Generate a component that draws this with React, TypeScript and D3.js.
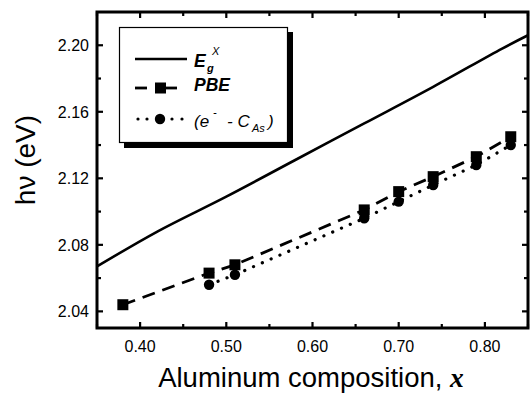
import { useEffect, useRef } from "react"
import * as d3 from "d3"

// E_g^X curve
const egX = [0.35, 0.42, 0.5, 0.58, 0.66, 0.74, 0.82, 0.85]
const egY = [2.067, 2.088, 2.109, 2.131, 2.153, 2.175, 2.198, 2.206]

// PBE (squares)
const pbeX = [0.38, 0.48, 0.51, 0.66, 0.7, 0.74, 0.79, 0.83]
const pbeY = [2.044, 2.063, 2.068, 2.101, 2.112, 2.121, 2.133, 2.145]

// (e- - C_As) (circles)
const casX = [0.48, 0.51, 0.66, 0.7, 0.74, 0.79, 0.83]
const casY = [2.056, 2.062, 2.096, 2.106, 2.116, 2.128, 2.14]

const xTicks = [0.4, 0.5, 0.6, 0.7, 0.8]
const xMinor = [0.35, 0.45, 0.55, 0.65, 0.75, 0.85]
const yTicks = [2.04, 2.08, 2.12, 2.16, 2.2]
const yMinor = [2.06, 2.1, 2.14, 2.18]

const W = 532
const H = 394
const FONT = "'Liberation Sans', Arial, Helvetica, sans-serif"

const App = () => {
  const svgRef = useRef<SVGSVGElement>(null)

  useEffect(() => {
    const svg = d3.select(svgRef.current)
    svg.selectAll("*").remove()

    const left = 97
    const right = 528
    const top = 12
    const bottom = 328

    const x = d3.scaleLinear().domain([0.35, 0.85]).range([left, right])
    const y = d3.scaleLinear().domain([2.03, 2.22]).range([bottom, top])

    svg.append("rect").attr("width", W).attr("height", H).attr("fill", "white")

    const toPts = (xs: number[], ys: number[]) => xs.map((v, i) => [v, ys[i]] as [number, number])
    const line = d3
      .line<[number, number]>()
      .x((d) => x(d[0]))
      .y((d) => y(d[1]))

    const plot = svg.append("g")

    // solid E_g^X
    plot
      .append("path")
      .attr("d", line.curve(d3.curveCatmullRom)(toPts(egX, egY)))
      .attr("fill", "none")
      .attr("stroke", "black")
      .attr("stroke-width", 2.6)

    // dotted (e- - C_As)
    plot
      .append("path")
      .attr("d", line.curve(d3.curveLinear)(toPts(casX, casY)))
      .attr("fill", "none")
      .attr("stroke", "black")
      .attr("stroke-width", 3.2)
      .attr("stroke-linecap", "round")
      .attr("stroke-dasharray", "0.1 9.5")

    // dashed PBE
    plot
      .append("path")
      .attr("d", line.curve(d3.curveLinear)(toPts(pbeX, pbeY)))
      .attr("fill", "none")
      .attr("stroke", "black")
      .attr("stroke-width", 2.8)
      .attr("stroke-dasharray", "13 8")

    plot
      .selectAll(".dot")
      .data(toPts(casX, casY))
      .enter()
      .append("circle")
      .attr("cx", (d) => x(d[0]))
      .attr("cy", (d) => y(d[1]))
      .attr("r", 5.2)
      .attr("fill", "black")

    const sq = 11
    plot
      .selectAll(".sq")
      .data(toPts(pbeX, pbeY))
      .enter()
      .append("rect")
      .attr("x", (d) => x(d[0]) - sq / 2)
      .attr("y", (d) => y(d[1]) - sq / 2)
      .attr("width", sq)
      .attr("height", sq)
      .attr("fill", "black")

    // frame + ticks
    const axes = svg.append("g").attr("stroke", "black").attr("stroke-width", 2.2)
    const tickX = (vals: number[], len: number) => {
      vals.forEach((v) => {
        axes.append("line").attr("x1", x(v)).attr("x2", x(v)).attr("y1", bottom).attr("y2", bottom - len)
        axes.append("line").attr("x1", x(v)).attr("x2", x(v)).attr("y1", top).attr("y2", top + len)
      })
    }
    const tickY = (vals: number[], len: number) => {
      vals.forEach((v) => {
        axes.append("line").attr("x1", left).attr("x2", left + len).attr("y1", y(v)).attr("y2", y(v))
        axes.append("line").attr("x1", right).attr("x2", right - len).attr("y1", y(v)).attr("y2", y(v))
      })
    }
    tickX(xTicks, 6)
    tickX(xMinor, 4)
    tickY(yTicks, 6)
    tickY(yMinor, 4)

    svg
      .append("rect")
      .attr("x", left)
      .attr("y", top)
      .attr("width", right - left)
      .attr("height", bottom - top)
      .attr("fill", "none")
      .attr("stroke", "black")
      .attr("stroke-width", 3)

    // tick labels
    svg
      .append("g")
      .selectAll("text")
      .data(xTicks)
      .enter()
      .append("text")
      .attr("x", (d) => x(d))
      .attr("y", 352)
      .attr("text-anchor", "middle")
      .style("font-family", FONT)
      .style("font-size", "16px")
      .text((d) => d3.format(".2f")(d))

    svg
      .append("g")
      .selectAll("text")
      .data(yTicks)
      .enter()
      .append("text")
      .attr("x", 89)
      .attr("y", (d) => y(d) + 6)
      .attr("text-anchor", "end")
      .style("font-family", FONT)
      .style("font-size", "16px")
      .text((d) => d3.format(".2f")(d))

    // axis titles
    const xt = svg
      .append("text")
      .attr("x", 311)
      .attr("y", 387)
      .attr("text-anchor", "middle")
      .style("font-family", FONT)
      .style("font-size", "27.5px")
    xt.append("tspan").text("Aluminum composition, ")
    xt.append("tspan")
      .style("font-family", "'Liberation Serif', 'Times New Roman', serif")
      .style("font-style", "italic")
      .style("font-weight", "bold")
      .text("x")

    svg
      .append("text")
      .attr("transform", "translate(35,160) rotate(-90)")
      .attr("text-anchor", "middle")
      .style("font-family", FONT)
      .style("font-size", "28px")
      .text("hν (eV)")

    // legend
    const lg = svg.append("g")
    lg.append("rect").attr("x", 124).attr("y", 32).attr("width", 169).attr("height", 116).attr("fill", "black")
    lg.append("rect")
      .attr("x", 119.5)
      .attr("y", 27.5)
      .attr("width", 168)
      .attr("height", 115)
      .attr("fill", "white")
      .attr("stroke", "black")
      .attr("stroke-width", 1.2)

    lg.append("line").attr("x1", 135).attr("x2", 187).attr("y1", 59).attr("y2", 59).attr("stroke", "black").attr("stroke-width", 2.6)

    lg.append("line").attr("x1", 135).attr("x2", 147).attr("y1", 88).attr("y2", 88).attr("stroke", "black").attr("stroke-width", 2.8)
    lg.append("line").attr("x1", 166).attr("x2", 177).attr("y1", 88).attr("y2", 88).attr("stroke", "black").attr("stroke-width", 2.8)
    lg.append("rect").attr("x", 155).attr("y", 82.5).attr("width", 11).attr("height", 11).attr("fill", "black")

    ;[138, 147, 172, 182].forEach((cx) => {
      lg.append("circle").attr("cx", cx).attr("cy", 119).attr("r", 1.6).attr("fill", "black")
    })
    lg.append("circle").attr("cx", 160).attr("cy", 119).attr("r", 5.2).attr("fill", "black")

    const lt = (xp: number, yp: number, size: number, txt: string, bold = false) =>
      lg
        .append("text")
        .attr("x", xp)
        .attr("y", yp)
        .style("font-family", FONT)
        .style("font-style", "italic")
        .style("font-weight", bold ? "bold" : "normal")
        .style("font-size", size + "px")
        .text(txt)

    lt(194, 66.5, 17.5, "E", true)
    lt(212, 55, 11, "X")
    lt(207, 72, 11, "g", true)
    lt(194, 90.5, 17.5, "PBE", true)
    lt(194, 127, 17, "(e")
    lt(213, 116, 11, "-")
    lt(227, 127, 17, "- C")
    lt(252, 132, 11, "As")
    lt(268, 127, 17, ")")
  }, [])

  return (
    <svg
      ref={svgRef}
      width={W}
      height={H}
      style={{ position: "absolute", left: 0, top: 0, display: "block" }}
    ></svg>
  )
}

export default App
